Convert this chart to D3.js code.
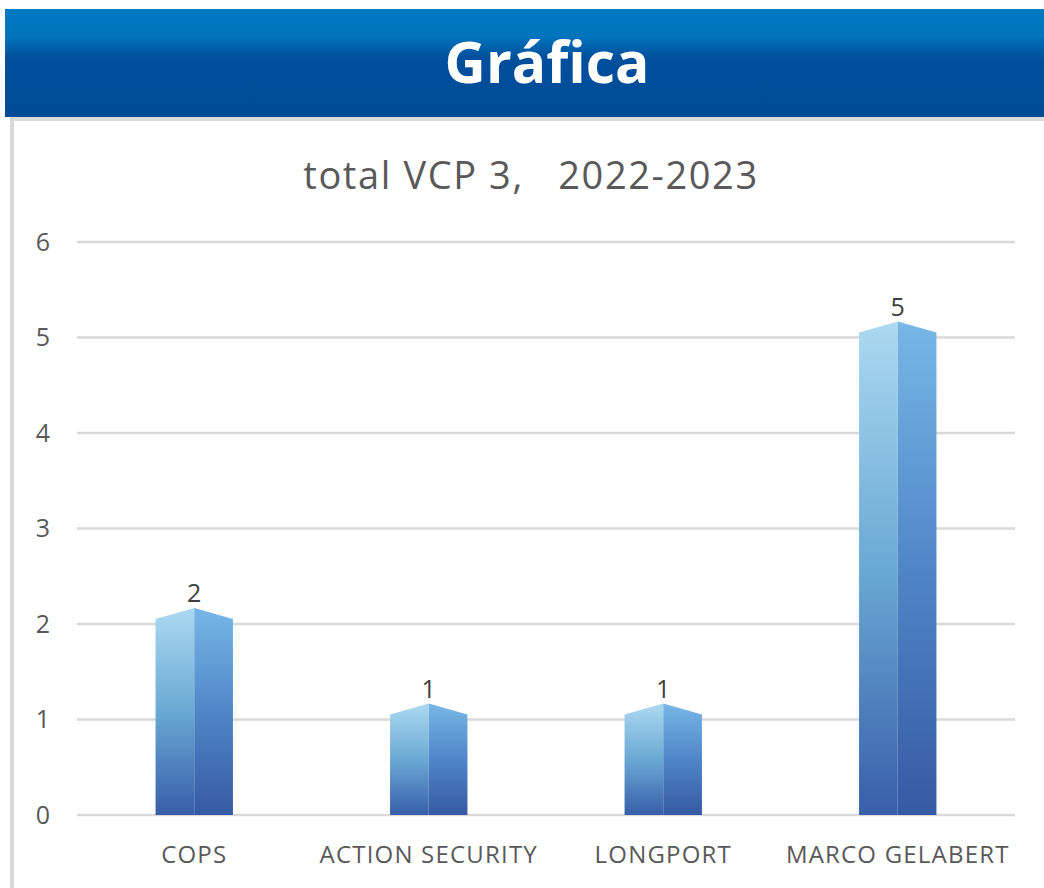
<!DOCTYPE html>
<html>
<head>
<meta charset="utf-8">
<script src="https://cdn.jsdelivr.net/npm/d3@7"></script>
<style>
  body { margin: 0; background: #fff; }
  svg { display: block; }
</style>
</head>
<body>
<svg id="chart" width="1044" height="888"></svg>
<script>
var categories = ["COPS", "ACTION SECURITY", "LONGPORT", "MARCO GELABERT"];
var values = [2, 1, 1, 5];
var yTicks = [0, 1, 2, 3, 4, 5, 6];
var chartTitle = "total VCP 3,   2022-2023";
var headerTitle = "Gráfica";

var svg = d3.select("#chart"),
    margin = {top: 242, right: 29, bottom: 73, left: 77},
    width = +svg.attr("width") - margin.left - margin.right,
    height = +svg.attr("height") - margin.top - margin.bottom;

var defs = svg.append("defs");

var hg = defs.append("linearGradient").attr("id", "hdr")
    .attr("x1", 0).attr("y1", 0).attr("x2", 0).attr("y2", 1);
hg.append("stop").attr("offset", "0%").attr("stop-color", "#0079c2");
hg.append("stop").attr("offset", "25%").attr("stop-color", "#0074bd");
hg.append("stop").attr("offset", "45%").attr("stop-color", "#004f9c");
hg.append("stop").attr("offset", "100%").attr("stop-color", "#004b98");

var lg = defs.append("linearGradient").attr("id", "barL")
    .attr("x1", 0).attr("y1", 0).attr("x2", 0).attr("y2", 1);
lg.append("stop").attr("offset", "0%").attr("stop-color", "#acd9f1");
lg.append("stop").attr("offset", "50%").attr("stop-color", "#6aa9d4");
lg.append("stop").attr("offset", "100%").attr("stop-color", "#385ea9");

var rg = defs.append("linearGradient").attr("id", "barR")
    .attr("x1", 0).attr("y1", 0).attr("x2", 0).attr("y2", 1);
rg.append("stop").attr("offset", "0%").attr("stop-color", "#78b7e6");
rg.append("stop").attr("offset", "50%").attr("stop-color", "#4f86c8");
rg.append("stop").attr("offset", "100%").attr("stop-color", "#3659a3");

// header band
svg.append("rect").attr("x", 5).attr("y", 9).attr("width", 1039).attr("height", 108)
    .attr("fill", "url(#hdr)");
svg.append("rect").attr("x", 10).attr("y", 117).attr("width", 1034).attr("height", 4)
    .attr("fill", "#dcdcdc");
svg.append("rect").attr("x", 10).attr("y", 117).attr("width", 4).attr("height", 771)
    .attr("fill", "#d9d9d9");
svg.append("text")
    .attr("x", 547).attr("y", 83)
    .attr("text-anchor", "middle")
    .attr("fill", "#fff")
    .style("font", "bold 57px 'Open Sans', sans-serif")
    .text(headerTitle);

svg.append("text")
    .attr("x", 531).attr("y", 189)
    .attr("text-anchor", "middle")
    .attr("fill", "#595959")
    .style("font", "38px 'Open Sans', sans-serif")
    .style("letter-spacing", "1.6px")
    .style("white-space", "pre")
    .attr("xml:space", "preserve")
    .text(chartTitle);

var g = svg.append("g").attr("transform", "translate(" + margin.left + "," + margin.top + ")");

var x = d3.scaleBand().domain(categories).range([0, width]).paddingInner(0.67).paddingOuter(0.335),
    y = d3.scaleLinear().domain([0, 6]).range([height, 0]);

// gridlines
g.append("g")
    .selectAll("line")
    .data(yTicks)
    .enter().append("line")
    .attr("x1", 0).attr("x2", width)
    .attr("y1", function(d) { return y(d); })
    .attr("y2", function(d) { return y(d); })
    .attr("stroke", "#d9d9d9")
    .attr("stroke-width", 2.5);

var yAxis = g.append("g")
    .call(d3.axisLeft(y).tickValues(yTicks).tickFormat(d3.format("d")).tickSize(0).tickPadding(27));
yAxis.select(".domain").remove();
yAxis.selectAll("text")
    .attr("fill", "#595959")
    .style("font", "25px 'Open Sans', sans-serif");

var xAxis = g.append("g")
    .attr("transform", "translate(0," + height + ")")
    .call(d3.axisBottom(x).tickSize(0).tickPadding(31));
xAxis.select(".domain").remove();
xAxis.selectAll("text")
    .attr("fill", "#595959")
    .style("font", "24px 'Open Sans', sans-serif")
    .style("letter-spacing", "1.2px");

var bar = g.selectAll(".bar")
    .data(categories.map(function(c, i) { return {name: c, value: values[i]}; }))
    .enter().append("g")
    .attr("class", "bar");

bar.append("path")
    .attr("fill", "url(#barL)")
    .attr("d", function(d) {
        var x0 = x(d.name), xm = x0 + x.bandwidth() / 2, top = y(d.value);
        return "M" + x0 + "," + height + "L" + x0 + "," + (top - 5) +
            "L" + xm + "," + (top - 16) + "L" + xm + "," + height + "Z";
    });

bar.append("path")
    .attr("fill", "url(#barR)")
    .attr("d", function(d) {
        var x1 = x(d.name) + x.bandwidth(), xm = x(d.name) + x.bandwidth() / 2, top = y(d.value);
        return "M" + xm + "," + height + "L" + xm + "," + (top - 16) +
            "L" + x1 + "," + (top - 5) + "L" + x1 + "," + height + "Z";
    });

bar.append("text")
    .attr("x", function(d) { return x(d.name) + x.bandwidth() / 2; })
    .attr("y", function(d) { return y(d.value) - 22; })
    .attr("text-anchor", "middle")
    .attr("fill", "#404040")
    .style("font", "25px 'Open Sans', sans-serif")
    .text(function(d) { return d.value; });
</script>
</body>
</html>
